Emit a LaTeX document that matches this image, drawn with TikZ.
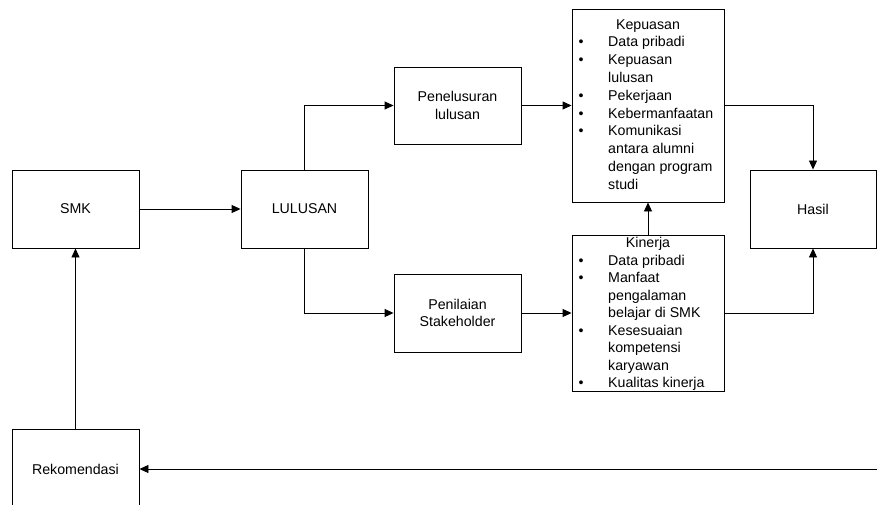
\documentclass[tikz,border=0pt]{standalone}
\usepackage{fontspec}
\setmainfont{Liberation Sans}
\usetikzlibrary{arrows.meta}
\begin{document}
\begin{tikzpicture}[x=1pt,y=-1pt,
  box/.style={draw, line width=0.9pt, inner sep=0pt, font=\fontsize{14.2}{17.5}\selectfont, align=center},
  arr/.style={line width=0.9pt, -{Triangle[length=9pt,width=8pt]}},
  itm/.style={anchor=base west, inner sep=0pt, font=\fontsize{14.2}{17.5}\selectfont},
  ttl/.style={anchor=base, inner sep=0pt, font=\fontsize{14.2}{17.5}\selectfont},
  bul/.style={anchor=base, inner sep=0pt, font=\fontsize{14.2}{17.5}\selectfont}]
\useasboundingbox (0,0) rectangle (877,505);
\clip (0,0) rectangle (877,505);
% boxes
\node[box, minimum width=127pt, minimum height=78pt] (smk) at (75.5,209) {SMK};
\node[box, minimum width=127pt, minimum height=78pt] (lul) at (304.5,209) {LULUSAN};
\node[box, minimum width=127pt, minimum height=77pt] (pen) at (457.5,105.5) {Penelusuran\\lulusan};
\node[box, minimum width=127pt, minimum height=78pt] (pst) at (457.5,313) {Penilaian\\Stakeholder};
\node[box, minimum width=152pt, minimum height=193pt] (kep) at (648,105.5) {};
\node[box, minimum width=152pt, minimum height=156pt] (kin) at (648,313) {};
\node[box, minimum width=126pt, minimum height=78pt] (has) at (813,209) {Hasil};
\node[box, minimum width=127pt, minimum height=80pt] (rek) at (75.5,469) {Rekomendasi};
% Kepuasan text
\node[ttl] (kt) at (648,30) {Kepuasan};
\node[bul] (kb1) at (581,47) {\textbullet};
\node[itm] (k1) at (608,47) {Data pribadi};
\node[bul] (kb2) at (581,64.8) {\textbullet};
\node[itm] (k2) at (608,64.8) {Kepuasan};
\node[itm] (k3) at (608,82.6) {lulusan};
\node[bul] (kb4) at (581,100.4) {\textbullet};
\node[itm] (k4) at (608,100.4) {Pekerjaan};
\node[bul] (kb5) at (581,118.2) {\textbullet};
\node[itm] (k5) at (608,118.2) {Kebermanfaatan};
\node[bul] (kb6) at (581,136) {\textbullet};
\node[itm] (k6) at (608,136) {Komunikasi};
\node[itm] (k7) at (608,153.8) {antara alumni};
\node[itm] (k8) at (608,171.6) {dengan program};
\node[itm] (k9) at (608,189.4) {studi};
% Kinerja text
\node[ttl] (nt) at (648,247) {Kinerja};
\node[bul] (nb1) at (581,265) {\textbullet};
\node[itm] (n1) at (608,265) {Data pribadi};
\node[bul] (nb2) at (581,282.5) {\textbullet};
\node[itm] (n2) at (608,282.5) {Manfaat};
\node[itm] (n3) at (608,300) {pengalaman};
\node[itm] (n4) at (608,317.5) {belajar di SMK};
\node[bul] (nb5) at (581,335) {\textbullet};
\node[itm] (n5) at (608,335) {Kesesuaian};
\node[itm] (n6) at (608,352.5) {kompetensi};
\node[itm] (n7) at (608,370) {karyawan};
\node[bul] (nb8) at (581,387.5) {\textbullet};
\node[itm] (n8) at (608,387.5) {Kualitas kinerja};
% connectors
\coordinate (rin) at (885,469);
\draw[arr] (smk.east) -- (lul.west);
\draw[arr] (lul.north) |- (pen.west);
\draw[arr] (lul.south) |- (pst.west);
\draw[arr] (pen.east) -- (kep.west);
\draw[arr] (pst.east) -- (kin.west);
\draw[arr] (kin.north) -- (kep.south);
\draw[arr] (kep.east) -| (has.north);
\draw[arr] (kin.east) -| (has.south);
\draw[arr] (rek.north) -- (smk.south);
\draw[arr] (rin) -- (rek.east);
\end{tikzpicture}
\end{document}
